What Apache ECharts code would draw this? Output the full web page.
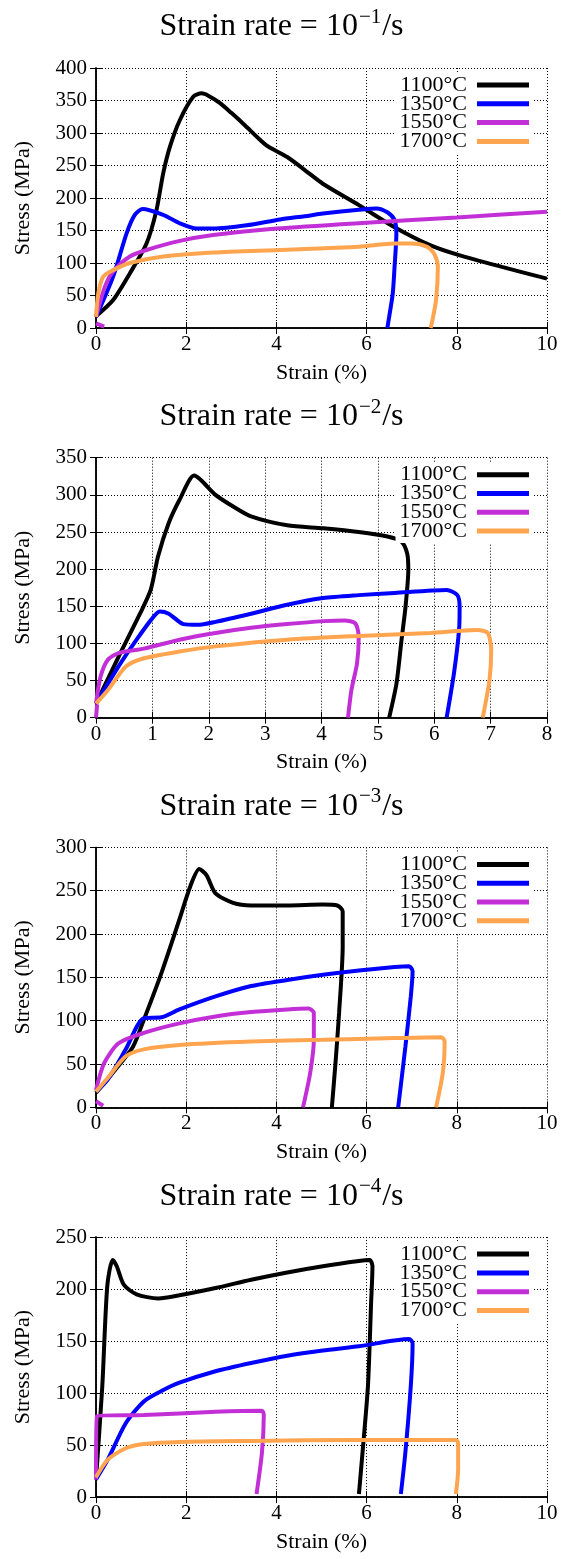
<!DOCTYPE html>
<html>
<head>
<meta charset="utf-8">
<script src="https://cdn.jsdelivr.net/npm/echarts@6/dist/echarts.min.js"></script>
<style>html,body{margin:0;padding:0;background:#fff}#c{width:563px;height:1559px}</style>
</head>
<body>
<div id="c"></div>
<script>
// ---- data (strain %, stress MPa) ----
const seriesNames = ['1100°C', '1350°C', '1550°C', '1700°C'];
const rateExponents = ['−1', '−2', '−3', '−4'];
const xMax = [10, 8, 10, 10];
const xInterval = [2, 1, 2, 2];
const yMax = [400, 350, 300, 250];
const yInterval = [50, 50, 50, 50];

const p1_1100 = [[0,18],[0.38,43],[0.75,84],[1.12,130],[1.34,181],[1.49,238],[1.64,279],[1.86,320],[2.16,356],[2.34,361],[2.5,357],[2.75,346],[3.0,331],[3.3,312],[3.6,292],[3.8,280],[4.24,263],[4.63,243],[5.03,222],[5.83,189],[6.62,155],[7.42,127],[8.05,112],[9.0,94],[10,76]];
const p1_1350 = [[0,17],[0.38,79],[0.68,146],[0.86,174],[1.03,183],[1.49,174],[1.86,161],[2.23,153],[2.6,153],[3.34,158],[4.08,167],[4.63,172],[5.03,176],[5.83,182],[6.22,184],[6.46,178],[6.62,166],[6.66,145],[6.62,94],[6.58,53],[6.5,17],[6.46,0]];
const p1_1550 = [[0,17],[0.2,64],[0.38,87],[0.75,110],[1.12,120],[1.86,134],[2.6,143],[4,153],[6,162],[8,170],[10,179]];
const p1_1550b = [[0,7],[0.18,2]];
const p1_1700 = [[0,17],[0.05,53],[0.16,79],[0.38,89],[0.75,100],[1.49,110],[2.6,116],[4.08,120],[5.83,125],[6.62,130],[7.0,130],[7.34,125],[7.5,114],[7.58,94],[7.54,43],[7.46,12],[7.42,0]];

const p2_1100 = [[0,19],[0.4,82],[0.78,140],[0.97,172],[1.1,217],[1.29,262],[1.48,293],[1.74,326],[1.86,320],[2.12,300],[2.44,284],[2.75,271],[3.39,259],[4.03,255],[4.66,250],[5.17,244],[5.42,237],[5.52,221],[5.54,199],[5.49,149],[5.42,105],[5.33,46],[5.2,0]];
const p2_1350 = [[0,19],[0.4,69],[0.72,105],[0.97,131],[1.13,143],[1.29,140],[1.55,126],[1.8,125],[2.12,129],[2.75,140],[3.39,152],[4.03,161],[4.66,165],[5.3,168],[6.22,172],[6.41,165],[6.45,149],[6.44,118],[6.35,60],[6.22,0]];
const p2_1550 = [[0,19],[0.08,55],[0.21,78],[0.4,87],[0.85,93],[1.48,105],[2.12,114],[2.75,121],[3.39,126],[4.03,130],[4.41,131],[4.6,127],[4.66,109],[4.63,73],[4.53,37],[4.47,0]];
const p2_1550b = [[0,0],[0.02,18]];
const p2_1700 = [[0,19],[0.21,37],[0.53,69],[0.85,80],[1.48,89],[2.12,96],[3.39,105],[4.66,110],[5.93,114],[6.76,118],[6.95,114],[7.01,91],[6.98,51],[6.86,0]];

const p3_1100 = [[0,17],[0.42,43],[0.82,70],[1.06,101],[1.45,155],[1.85,217],[2.09,255],[2.29,275],[2.45,268],[2.65,247],[3.04,236],[3.44,233],[4.24,233],[5.03,234],[5.35,233],[5.47,226],[5.47,186],[5.39,109],[5.31,51],[5.23,0]];
const p3_1350 = [[0,18],[0.26,32],[0.66,67],[1.06,103],[1.45,104],[1.85,113],[2.65,128],[3.44,140],[4.24,147],[5.03,153],[5.83,158],[6.62,162],[6.94,163],[7.02,157],[6.98,128],[6.86,70],[6.7,0]];
const p3_1550 = [[0,20],[0.18,51],[0.5,74],[1.06,86],[1.85,97],[2.65,105],[3.44,110],[4.24,113],[4.71,114],[4.83,109],[4.83,78],[4.75,40],[4.59,0]];
const p3_1550b = [[0,7],[0.16,2]];
const p3_1700 = [[0,18],[0.26,34],[0.66,59],[1.06,67],[1.85,72],[3.44,76],[5.03,78],[6.62,80],[7.65,81],[7.73,76],[7.69,40],[7.54,0]];

const p4_1100 = [[0,17],[0.14,107],[0.25,203],[0.37,228],[0.46,222],[0.62,204],[0.9,195],[1.38,191],[1.85,194],[2.65,201],[3.44,209],[4.24,216],[5.03,222],[5.83,227],[6.07,228],[6.13,222],[6.1,187],[6.03,107],[5.91,43],[5.83,3]];
const p4_1350 = [[0,17],[0.26,36],[0.66,71],[1.06,92],[1.45,102],[1.85,110],[2.65,121],[3.44,129],[4.24,136],[5.03,141],[5.83,145],[6.94,152],[7.02,148],[6.98,107],[6.86,43],[6.76,3]];
const p4_1550 = [[0,17],[0.02,78],[1.06,79],[2.65,82],[3.68,83],[3.72,79],[3.68,43],[3.56,3]];
const p4_1700 = [[0,19],[0.26,36],[0.66,47],[1.06,51],[1.85,53],[3.44,54],[5.83,55],[7.97,55],[8.03,52],[8.03,27],[7.98,3]];

const panels = [
  [p1_1100, p1_1350, p1_1550, p1_1700, p1_1550b],
  [p2_1100, p2_1350, p2_1550, p2_1700, p2_1550b],
  [p3_1100, p3_1350, p3_1550, p3_1700, p3_1550b],
  [p4_1100, p4_1350, p4_1550, p4_1700, null]
];

// ---- styling / layout ----
const colors = ['#000000', '#0000ff', '#c22fd6', '#ffa54f'];
const FONT = "'Liberation Serif', 'DejaVu Serif', serif";
const plotTop0 = 68, panelStep = 389.7, plotH = 260, plotL = 96, plotR = 16;

const option = {
  animation: false,
  backgroundColor: '#fff',
  title: [], grid: [], xAxis: [], yAxis: [], legend: [], series: []
};

panels.forEach((p, i) => {
  const top = plotTop0 + i * panelStep;
  option.title.push({
    text: '{a|Strain rate = 10}{s|' + rateExponents[i] + '}{a|/s}',
    left: 'center', top: top - 68,
    textStyle: { rich: {
      a: { fontFamily: FONT, fontSize: 32, fontWeight: 'normal', color: '#000', verticalAlign: 'bottom', lineHeight: 38 },
      s: { fontFamily: FONT, fontSize: 21, fontWeight: 'normal', color: '#000', verticalAlign: 'bottom', lineHeight: 38, padding: [0, 1, 15, 1] }
    } }
  });
  option.grid.push({ left: plotL, right: plotR, top: top, height: plotH, show: false });
  const axLine = { show: true, lineStyle: { color: '#000', width: 1.5 } };
  const tick = { show: true, inside: true, length: 6, lineStyle: { color: '#000', width: 1 } };
  option.xAxis.push({
    type: 'value', gridIndex: i, min: 0, max: xMax[i], interval: xInterval[i],
    name: 'Strain (%)', nameLocation: 'middle', nameGap: 34,
    nameTextStyle: { fontFamily: FONT, fontSize: 22, color: '#000' },
    axisLine: axLine, axisTick: tick,
    axisLabel: { fontFamily: FONT, fontSize: 21, color: '#000', margin: 6 },
    splitLine: { show: true, lineStyle: { color: '#000', width: 1, type: [1, 2] } }
  });
  option.xAxis.push({
    type: 'value', gridIndex: i, position: 'top', min: 0, max: xMax[i], interval: xInterval[i],
    axisLine: axLine, axisTick: tick, axisLabel: { show: false }, splitLine: { show: false }
  });
  option.yAxis.push({
    type: 'value', gridIndex: i, min: 0, max: yMax[i], interval: yInterval[i],
    name: 'Stress (MPa)', nameLocation: 'middle', nameGap: 62, nameRotate: 90,
    nameTextStyle: { fontFamily: FONT, fontSize: 22, color: '#000' },
    axisLine: axLine, axisTick: tick,
    axisLabel: { fontFamily: FONT, fontSize: 21, color: '#000', margin: 9 },
    splitLine: { show: true, lineStyle: { color: '#000', width: 1, type: [1, 2] } }
  });
  option.yAxis.push({
    type: 'value', gridIndex: i, position: 'right', min: 0, max: yMax[i], interval: yInterval[i],
    axisLine: axLine, axisTick: tick, axisLabel: { show: false }, splitLine: { show: false }
  });
  option.legend.push({
    orient: 'vertical', right: 31, top: top + 5, align: 'right',
    backgroundColor: '#fff', padding: [1, 3, 1, 4],
    itemWidth: 52, itemHeight: 5, itemGap: -3.2, icon: 'rect',
    textStyle: { fontFamily: FONT, fontSize: 22, color: '#000', padding: [0, 5, 0, 0] },
    data: seriesNames.map((n, k) => ({ name: n, itemStyle: { color: colors[k] } }))
  });
  p.forEach((d, k) => {
    if (!d) return;
    const ci = k === 4 ? 2 : k;
    option.series.push({
      type: 'line', name: seriesNames[ci], xAxisIndex: i * 2, yAxisIndex: i * 2,
      data: d, showSymbol: false, symbol: 'none', smooth: 0.25, clip: true,
      lineStyle: { color: colors[ci], width: 4 }, itemStyle: { color: colors[ci] },
      z: 2 + k
    });
  });
});

const chart = echarts.init(document.getElementById('c'), null, { renderer: 'canvas' });
chart.setOption(option);
</script>
</body>
</html>
